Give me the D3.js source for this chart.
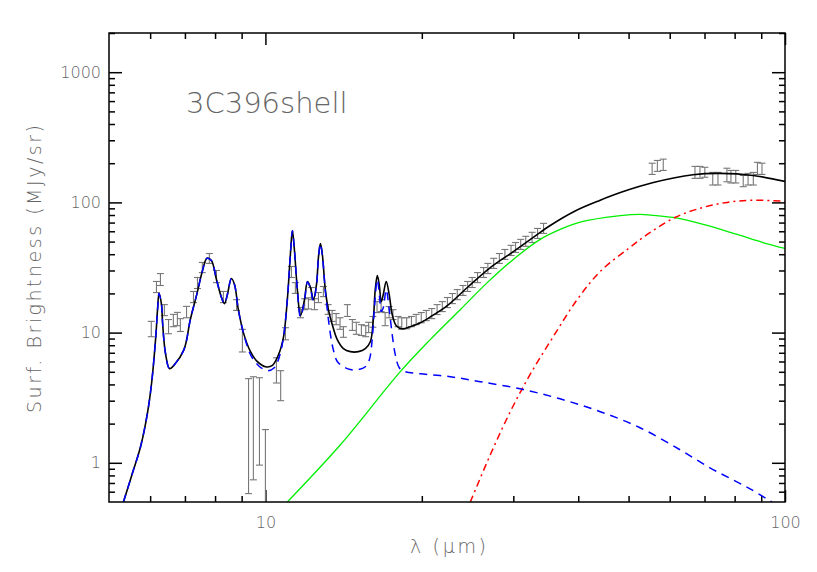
<!DOCTYPE html>
<html><head><meta charset="utf-8">
<script src="https://cdn.jsdelivr.net/npm/d3@7"></script>
<style>body{margin:0;background:#fff}svg{display:block}</style>
</head><body>
<svg id="c" width="817" height="572"></svg>
<script>
// ---------- data ----------
const errLambda = [6.03,6.17,6.28,6.39,6.51,6.65,6.77,6.86,7.05,7.27,7.40,7.56,7.80,8.05,8.30,8.80,9.03,9.28,9.48,9.74,10.0,10.5,10.7,10.93,11.22,11.42,11.68,11.9,12.1,12.26,12.43,12.65,12.93,13.2,13.44,13.68,13.92,14.13,14.38,14.7,14.96,15.3,15.6,15.8,16.1,16.4,16.7,17.0,17.3,17.6,18.0,18.3,18.7,19.1,19.5,19.95,20.4,20.9,21.4,21.9,22.4,22.9,23.4,24.0,24.5,25.0,25.6,26.3,26.8,27.5,28.2,28.9,29.7,30.3,31.0,31.7,32.6,33.4,34.3,55.5,56.8,58.3,67.1,68.6,70.1,72.6,74.3,77.3,78.7,80.4,83.1,84.9,86.9,88.5,90.3];
const errLow = [9.3,20.3,23.0,13.5,9.8,11.1,11.3,10.2,13.0,17.0,21.8,28.9,34.0,24.2,17.0,14.8,7.1,0.58,0.74,0.96,0.45,4.1,3.0,8.8,26.5,20.0,13.0,15.0,15.2,17.9,15.0,17.0,18.9,13.8,12.2,11.5,10.6,9.2,13.3,10.4,9.7,9.5,9.3,10.0,11.0,14.25,14.5,11.3,13.0,12.6,11.1,10.6,10.7,11.1,11.5,11.9,12.35,12.8,13.76,14.5,15.57,16.7,17.9,19.3,20.7,22.2,24.2,26.5,28.4,31.1,34.0,36.5,39.1,41.3,43.5,46.0,49.2,52.9,57.8,164,173,176,153,153,156,136,136,144,141,141,132,136,136,164,164];
const errHigh = [12.2,24.7,28.4,16.4,12.6,13.8,14.3,12.8,15.9,20.7,26.5,34.6,40.5,30.0,20.7,17.9,10.6,4.43,4.58,4.5,1.8,6.4,5.1,10.9,32.2,24.2,15.6,18.2,18.5,22.2,18.2,20.3,22.6,16.4,14.8,14.0,13.0,11.1,16.4,12.6,12.0,11.5,11.3,12.0,13.3,17.3,17.9,14.25,15.85,15.0,13.3,13.0,13.0,13.3,13.8,14.25,14.8,15.3,16.4,17.3,18.6,19.95,21.4,23.0,24.7,26.5,28.9,31.6,34.0,37.2,40.5,43.5,46.8,49.2,52.0,54.9,58.9,63.1,69.0,200,210,215,189,189,186,170,170,183,176,176,161,167,170,203,200];

const totalLambda = [5.33,5.55,5.75,5.93,6.04,6.15,6.20,6.24,6.31,6.34,6.42,6.54,6.68,6.97,7.17,7.39,7.56,7.72,7.87,8.05,8.23,8.34,8.45,8.60,8.72,8.87,9.07,9.36,9.65,10.0,10.3,10.6,10.83,11.02,11.17,11.27,11.37,11.52,11.68,11.89,12.05,12.21,12.37,12.54,12.65,12.76,12.87,13.04,13.22,13.45,13.75,14.13,14.57,15.1,15.57,15.92,16.13,16.27,16.42,16.56,16.71,16.86,17.08,17.31,17.54,17.86,18.34,19.0,19.87,20.95,22.39,24.47,27.09,30.0,32.77,35.33,39.46,44.1,48.2,55.8,66.5,75.0,86.8,100];
const totalFlux = [0.5,0.838,1.327,2.42,4.12,9.15,15.0,19.95,16.4,11.9,7.0,5.28,5.67,7.4,12.6,20.2,29.5,37.2,35.8,25.6,18.6,16.7,19.6,26.0,23.4,15.0,10.0,7.14,5.98,5.47,5.57,6.78,9.15,17.9,39.8,60.7,43.5,21.4,13.5,17.9,24.7,22.2,17.9,23.4,37.9,48.3,39.8,21.4,15.0,11.5,8.83,7.54,7.14,7.14,7.54,8.51,12.59,21.4,27.4,23.4,17.3,19.6,24.7,19.6,13.76,11.3,10.7,11.1,11.9,13.5,16.1,22.2,31.6,41.9,53.8,66.5,86.0,104,119,142,163,167,161,145];

const pahLambda = [5.33,5.55,5.75,5.93,6.04,6.15,6.20,6.24,6.31,6.34,6.42,6.54,6.68,6.97,7.17,7.39,7.56,7.72,7.87,8.05,8.23,8.34,8.45,8.60,8.72,8.87,9.07,9.36,9.70,10.09,10.4,10.65,10.83,11.02,11.17,11.27,11.37,11.52,11.68,11.89,12.05,12.21,12.37,12.54,12.65,12.76,12.87,13.04,13.3,13.51,13.75,14.13,14.57,15.1,15.57,15.85,16.05,16.2,16.42,16.64,16.71,16.86,17.08,17.31,17.54,17.78,18.1,18.58,19.87,22.7,25.9,30.9,36.9,44.1,52.6,62.8,71.7,79.4,85.65,92.3,94.4];
const pahFlux = [0.5,0.838,1.327,2.42,4.12,9.15,15.0,19.95,16.4,11.9,7.0,5.28,5.67,7.4,12.6,20.2,29.5,37.2,35.8,25.6,18.6,16.7,19.6,26.0,23.4,15.0,10.0,6.78,5.57,5.1,5.37,6.64,9.15,17.9,39.8,60.7,43.5,21.4,13.2,17.5,24.5,21.8,17.5,23.0,37.5,48.0,39.5,21.0,10.5,7.4,6.0,5.47,5.2,5.2,5.47,6.2,8.83,15.0,25.5,16.4,14.5,15.5,21.4,15.0,9.65,6.78,5.37,5.01,4.83,4.58,4.2,3.7,3.1,2.47,1.86,1.26,0.915,0.74,0.631,0.528,0.5];

const warmLambda = [11.02,13.94,18.18,20.76,23.71,26.73,30.0,33.8,36.93,40.35,48.2,52.6,55.8,60.9,69.6,80.9,90.7,100];
const warmFlux = [0.5,1.375,5.01,8.83,15.0,24.2,36.5,52.0,62.0,70.5,79.0,80.8,79.6,76.6,67.7,56.7,49.2,44.3];

const coldLambda = [24.79,27.09,29.6,32.3,35.8,39.8,44.1,49.7,54.3,61.4,69.6,77.4,86.8,100];
const coldFlux = [0.5,1.152,2.47,4.75,9.3,17.9,29.5,43.5,56.7,76.6,91.6,100,104,102];

const xMajorTicks = [10,100];
const xMinorTicks = [6,7,8,9,20,30,40,50,60,70,80,90];
const yMajorTicks = [1,10,100,1000];
const yMinorTicks = [0.6,0.7,0.8,0.9,2,3,4,5,6,7,8,9,20,30,40,50,60,70,80,90,200,300,400,500,600,700,800,900,2000];
const sourceLabel = "3C396shell";
const xTitle = "λ (μm)";
const yTitle = "Surf. Brightness (MJy/sr)";

// ---------- chart ----------
const L=109, R=785, T=33, B=502;
const svg = d3.select('#c');
const x = d3.scaleLog().domain([5,100]).range([L,R]);
const y = d3.scaleLog().domain([0.5,2000]).range([B,T]);
const FONT = '"DejaVu Sans", "Liberation Sans", sans-serif';
const TXT = '#666';

svg.append('defs').append('clipPath').attr('id','clip')
  .append('rect').attr('x',L).attr('y',T).attr('width',R-L).attr('height',B-T);

function styleAxis(a){
  a.select('.domain').remove();
  a.selectAll('line').attr('stroke','#000').attr('stroke-width',1.5);
  a.selectAll('text').attr('font-family',FONT).attr('font-weight',200)
    .attr('font-size',16).attr('fill',TXT);
}
// bottom
styleAxis(svg.append('g').attr('transform',`translate(0,${B})`)
  .call(d3.axisBottom(x).tickValues(xMajorTicks).tickSize(-12).tickPadding(15).tickFormat(d3.format('d'))));
styleAxis(svg.append('g').attr('transform',`translate(0,${B})`)
  .call(d3.axisBottom(x).tickValues(xMinorTicks).tickSize(-6).tickFormat('')));
// top
styleAxis(svg.append('g').attr('transform',`translate(0,${T})`)
  .call(d3.axisTop(x).tickValues(xMajorTicks).tickSize(-12).tickFormat('')));
styleAxis(svg.append('g').attr('transform',`translate(0,${T})`)
  .call(d3.axisTop(x).tickValues(xMinorTicks).tickSize(-6).tickFormat('')));
// left
styleAxis(svg.append('g').attr('transform',`translate(${L},0)`)
  .call(d3.axisLeft(y).tickValues(yMajorTicks).tickSize(-13).tickPadding(8).tickFormat(d3.format('d'))));
styleAxis(svg.append('g').attr('transform',`translate(${L},0)`)
  .call(d3.axisLeft(y).tickValues(yMinorTicks).tickSize(-6).tickFormat('')));
// right
styleAxis(svg.append('g').attr('transform',`translate(${R},0)`)
  .call(d3.axisRight(y).tickValues(yMajorTicks).tickSize(-13).tickFormat('')));
styleAxis(svg.append('g').attr('transform',`translate(${R},0)`)
  .call(d3.axisRight(y).tickValues(yMinorTicks).tickSize(-6).tickFormat('')));

const plot = svg.append('g').attr('clip-path','url(#clip)');

// error bars
const errData = errLambda.map((l,i)=>({l, lo:errLow[i], hi:errHigh[i]}));
const eb = plot.append('g').attr('stroke','#777').attr('stroke-width',1.1).attr('fill','none');
errData.forEach(d=>{
  const cx = x(d.l), y1 = y(d.lo), y2 = y(d.hi);
  eb.append('line').attr('x1',cx).attr('x2',cx).attr('y1',y1).attr('y2',y2);
  eb.append('line').attr('x1',cx-3.5).attr('x2',cx+3.5).attr('y1',y1).attr('y2',y1);
  eb.append('line').attr('x1',cx-3.5).attr('x2',cx+3.5).attr('y1',y2).attr('y2',y2);
});

const line = d3.line().x(d=>x(d[0])).y(d=>y(d[1])).curve(d3.curveCatmullRom.alpha(0.5));
function curve(ls, vs, color, width, dash){
  plot.append('path').datum(ls.map((l,i)=>[l,vs[i]]))
    .attr('d',line).attr('fill','none').attr('stroke',color)
    .attr('stroke-width',width).attr('stroke-dasharray',dash||null);
}
curve(warmLambda, warmFlux, '#00ee00', 1.3);
curve(coldLambda, coldFlux, '#ff0000', 1.5, '7,4,2,4');
curve(totalLambda, totalFlux, '#000', 1.6);
curve(pahLambda, pahFlux, '#0000ff', 1.5, '8,6');

// frame
svg.append('rect').attr('x',L).attr('y',T).attr('width',R-L).attr('height',B-T)
  .attr('fill','none').attr('stroke','#000').attr('stroke-width',1.5);

// texts
svg.append('text').attr('x',186).attr('y',113).text(sourceLabel)
  .attr('font-family',FONT).attr('font-weight',200).attr('font-size',29).attr('fill',TXT);
svg.append('text').attr('x',448).attr('y',553).attr('text-anchor','middle').text(xTitle)
  .attr('font-family',FONT).attr('font-weight',200).attr('font-size',19).attr('fill',TXT)
  .attr('textLength',76).attr('lengthAdjust','spacing');
svg.append('text').attr('transform','translate(41,269) rotate(-90)').attr('text-anchor','middle').text(yTitle)
  .attr('font-family',FONT).attr('font-weight',200).attr('font-size',19).attr('fill',TXT)
  .attr('textLength',288).attr('lengthAdjust','spacing');
</script>
</body></html>
